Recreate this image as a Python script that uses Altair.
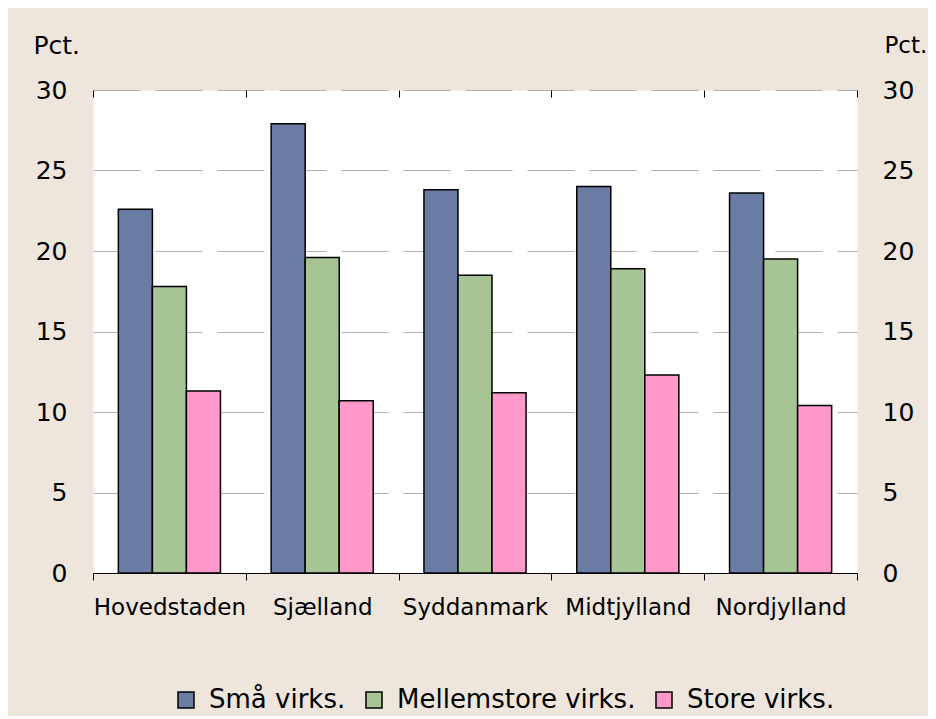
import altair as alt
import pandas as pd

regions = ["Hovedstaden", "Sjælland", "Syddanmark", "Midtjylland", "Nordjylland"]
series = ["Små virks.", "Mellemstore virks.", "Store virks."]
sma = [22.6, 27.9, 23.8, 24.0, 23.6]
mellem = [17.8, 19.6, 18.5, 18.9, 19.5]
store = [11.3, 10.7, 11.2, 12.3, 10.4]
colors = ["#6A7CA4", "#A6C494", "#FF99CC"]
y_ticks = [0, 5, 10, 15, 20, 25, 30]

rows = []
for vals, s in zip([sma, mellem, store], series):
    for r, v in zip(regions, vals):
        rows.append({"region": r, "serie": s, "value": v})
df = pd.DataFrame(rows)

FONT = "DejaVu Sans"
x_scale = alt.Scale(paddingInner=0, paddingOuter=0)

bars = alt.Chart(df).mark_bar(stroke="black", strokeWidth=1.5).encode(
    x=alt.X("region:N", sort=regions, scale=x_scale,
            axis=alt.Axis(title=None, labelAngle=0, labelFont=FONT, labelFontSize=23,
                          labelColor="black", domainColor="black", domainWidth=1,
                          tickColor="black", tickSize=7, tickBand="extent",
                          labelPadding=16, grid=False)),
    xOffset=alt.XOffset("serie:N", sort=series,
                        scale=alt.Scale(paddingInner=0, paddingOuter=0.745)),
    y=alt.Y("value:Q", scale=alt.Scale(domain=[0, 30], nice=False),
            axis=alt.Axis(title="Pct.", titleAngle=0, titleX=-60, titleY=-37,
                          titleAlign="left", titleBaseline="alphabetic",
                          titleFont=FONT, titleFontSize=25, titleFontWeight="normal",
                          titleColor="black",
                          values=y_ticks, labelFont=FONT, labelFontSize=25,
                          labelColor="black", labelPadding=26, ticks=False,
                          domain=False, grid=True, gridColor="#B0B0B0",
                          gridDash=[47, 15], gridWidth=1.2)),
    color=alt.Color("serie:N", sort=series,
                    scale=alt.Scale(domain=series, range=colors),
                    legend=alt.Legend(title=None, orient="none", direction="horizontal",
                                      legendX=80, legendY=597,
                                      symbolType="square", symbolSize=256,
                                      symbolStrokeColor="black", symbolStrokeWidth=1.5,
                                      labelFont=FONT, labelFontSize=26, labelColor="black",
                                      labelLimit=400, labelOffset=10, columnPadding=15)),
)

right = alt.Chart(df).mark_bar(opacity=0).encode(
    x=alt.X("region:N", sort=regions, scale=x_scale,
            axis=alt.Axis(title=None, labels=False, domain=False, grid=False,
                          tickColor="black", tickSize=7, tickBand="extent", offset=-7)),
    y=alt.Y("value:Q", scale=alt.Scale(domain=[0, 30], nice=False),
            axis=alt.Axis(orient="right", title="Pct.", titleAngle=0, titleX=27, titleY=-38,
                          titleAlign="left", titleBaseline="alphabetic",
                          titleFont=FONT, titleFontSize=23, titleFontWeight="normal",
                          titleColor="black",
                          values=y_ticks, labelFont=FONT, labelFontSize=25,
                          labelColor="black", labelPadding=25, ticks=False,
                          domain=False, grid=False)),
)

chart = alt.layer(bars, right).resolve_scale(y="independent").resolve_axis(
    x="independent").properties(
    width=764, height=483,
    autosize=alt.AutoSizeParams(type="none"),
    padding={"left": 85, "top": 82, "right": 71, "bottom": 143},
    background="#EEE5DC",
).configure_view(fill="white", stroke="transparent")

chart.save("out.html", embed_options={"renderer": "svg", "actions": False})
